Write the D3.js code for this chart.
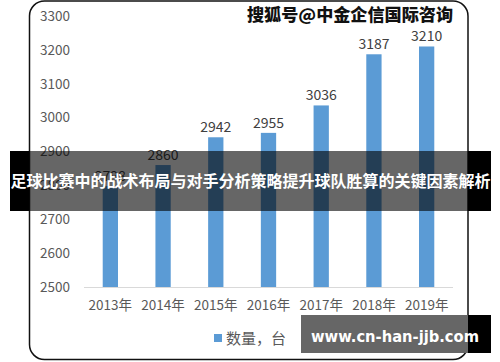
<!DOCTYPE html>
<html><head><meta charset="utf-8">
<script src="https://cdn.jsdelivr.net/npm/d3@7/dist/d3.min.js"></script>
<style>html,body{margin:0;padding:0;background:#fff;}svg{display:block;}</style>
</head><body>
<script>
const categories = ["2013年","2014年","2015年","2016年","2017年","2018年","2019年"];
const values = [2798, 2860, 2942, 2955, 3036, 3187, 3210];
const yTicks = [2500, 2600, 2700, 2800, 2900, 3000, 3100, 3200, 3300];
const legendLabel = "数量，台";
const watermark = "搜狐号@中金企信国际咨询";
const bannerText = "足球比赛中的战术布局与对手分析策略提升球队胜算的关键因素解析";
const siteText = "www.cn-han-jjb.com";

const W = 500, H = 362;
const font = "'Microsoft YaHei','Noto Sans CJK SC','DejaVu Sans',sans-serif";
const svg = d3.select("body").append("svg").attr("width", W).attr("height", H);

// chart frame
svg.append("rect").attr("x", 29.5).attr("y", 1).attr("width", 438.5).attr("height", 358.5)
  .attr("rx", 15).attr("ry", 15).attr("fill", "#fff").attr("stroke", "#111").attr("stroke-width", 1.5);

const x = d3.scaleBand().domain(categories).range([84, 453]).paddingInner(0.71).paddingOuter(0.355);
const y = d3.scaleLinear().domain([2500, 3300]).range([287, 16]);

const ya = svg.append("g").attr("transform", "translate(70,0)")
  .call(d3.axisLeft(y).tickValues(yTicks).tickSize(0).tickPadding(0).tickFormat(d3.format("d")));
ya.select(".domain").remove();
ya.selectAll("text").attr("font-family", font).attr("font-size", 13.5).attr("fill", "#595959");

svg.append("g").selectAll("rect").data(values).join("rect")
  .attr("x", (d, i) => x(categories[i])).attr("width", x.bandwidth())
  .attr("y", d => y(d)).attr("height", d => y(2500) - y(d)).attr("fill", "#5b9bd5");

svg.append("g").selectAll("text").data(values).join("text")
  .attr("x", (d, i) => x(categories[i]) + x.bandwidth() / 2).attr("y", d => y(d) - 5)
  .attr("text-anchor", "middle").attr("font-family", font).attr("font-size", 14).attr("fill", "#404040")
  .text(d => d);

// x axis
const xAxis = svg.append("g").attr("transform", "translate(0,287)")
  .call(d3.axisBottom(x).tickSize(0).tickPadding(13));
xAxis.select(".domain").attr("stroke", "#d9d9d9").attr("stroke-width", 1).attr("d", "M84,0.5H453");
xAxis.selectAll("text").attr("font-family", font).attr("font-size", 13.5).attr("fill", "#595959");

// legend
svg.append("rect").attr("x", 214).attr("y", 334).attr("width", 8).attr("height", 8).attr("fill", "#5b9bd5");
svg.append("text").attr("x", 226).attr("y", 343.5).attr("font-family", font).attr("font-size", 15)
  .attr("fill", "#595959").text(legendLabel);

// top watermark
svg.append("text").attr("x", 247).attr("y", 21).attr("font-family", font).attr("font-size", 16.5)
  .attr("font-weight", "900").attr("fill", "#111").attr("stroke", "#fff").attr("stroke-width", 2)
  .attr("paint-order", "stroke")
  .attr("textLength", 206).attr("lengthAdjust", "spacingAndGlyphs").text(watermark);

// banner: solid black outside the frame, translucent inside
svg.append("rect").attr("x", 10).attr("y", 151).attr("width", 19).attr("height", 60).attr("fill", "#000");
svg.append("rect").attr("x", 468).attr("y", 151).attr("width", 23).attr("height", 60).attr("fill", "#000");
svg.append("rect").attr("x", 29).attr("y", 151).attr("width", 439).attr("height", 60)
  .attr("fill", "#000").attr("fill-opacity", 0.6);
svg.append("text").attr("x", 250.5).attr("y", 187).attr("text-anchor", "middle")
  .attr("font-family", font).attr("font-size", 16).attr("font-weight", "bold").attr("fill", "#fff")
  .attr("textLength", 480).attr("lengthAdjust", "spacingAndGlyphs").text(bannerText);

// site badge
svg.append("rect").attr("x", 468).attr("y", 315).attr("width", 23).attr("height", 38).attr("fill", "#000");
svg.append("rect").attr("x", 301).attr("y", 315).attr("width", 167).attr("height", 38).attr("fill", "#666");
svg.append("text").attr("x", 311).attr("y", 342).attr("font-family", "'DejaVu Sans',sans-serif")
  .attr("font-size", 15).attr("font-weight", "bold").attr("fill", "#fff")
  .attr("textLength", 168).attr("lengthAdjust", "spacingAndGlyphs").text(siteText);
</script>
</body></html>
